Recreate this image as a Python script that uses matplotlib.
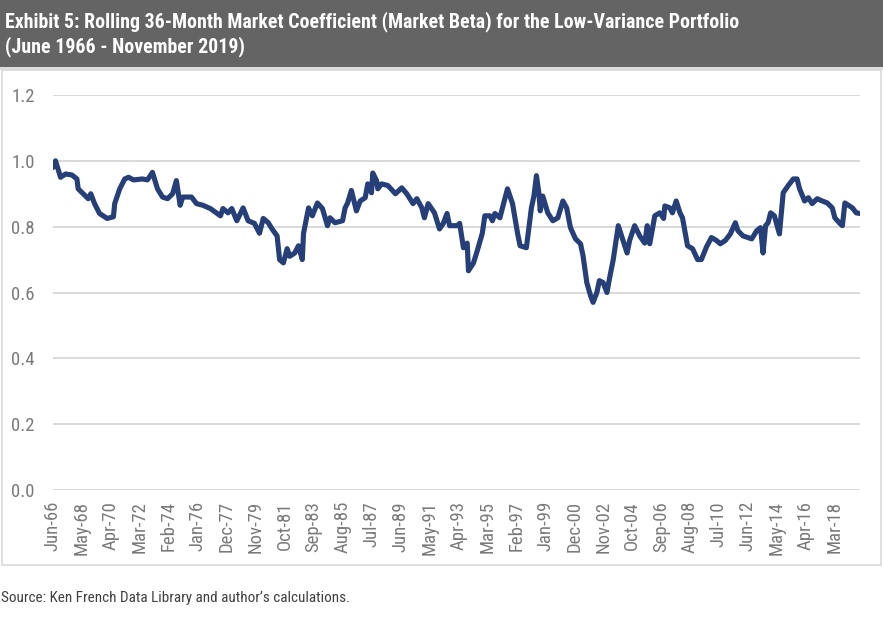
import os

import matplotlib

matplotlib.use("Agg")
import matplotlib.pyplot as plt
from matplotlib import font_manager
from matplotlib.font_manager import FontProperties
from matplotlib.patches import Rectangle

# keypoints (year-month, beta)
MONTHS = [
    "1966-06", "1966-08", "1966-12", "1967-04", "1967-09", "1968-01", "1968-02", "1968-06",
    "1968-10", "1968-12", "1969-03", "1969-07", "1970-01", "1970-06", "1970-07", "1970-11",
    "1971-03", "1971-06", "1971-10", "1972-05", "1972-09", "1973-01", "1973-05", "1973-09",
    "1974-01", "1974-05", "1974-08", "1974-11", "1975-01", "1975-08", "1975-12", "1976-05",
    "1976-11", "1977-07", "1977-09", "1978-01", "1978-04", "1978-08", "1979-01", "1979-05",
    "1979-10", "1980-02", "1980-05", "1980-09", "1980-12", "1981-04", "1981-06", "1981-09",
    "1981-12", "1982-02", "1982-06", "1982-09", "1982-12", "1983-01", "1983-05", "1983-08",
    "1983-12", "1984-04", "1984-08", "1984-10", "1985-02", "1985-08", "1985-10", "1985-12",
    "1986-03", "1986-07", "1986-10", "1987-02", "1987-04", "1987-07", "1987-08", "1987-11",
    "1987-12", "1988-03", "1988-08", "1989-02", "1989-07", "1989-11", "1990-04", "1990-07",
    "1990-11", "1991-01", "1991-04", "1991-09", "1992-01", "1992-04", "1992-07", "1992-09",
    "1993-03", "1993-05", "1993-08", "1993-11", "1993-12", "1994-04", "1994-07", "1994-11",
    "1995-01", "1995-05", "1995-07", "1995-09", "1996-01", "1996-03", "1996-07", "1996-11",
    "1997-03", "1997-05", "1997-10", "1998-02", "1998-04", "1998-06", "1998-08", "1998-09",
    "1998-11", "1999-03", "1999-07", "1999-11", "2000-03", "2000-06", "2000-09", "2001-01",
    "2001-05", "2001-07", "2001-10", "2002-01", "2002-03", "2002-06", "2002-08", "2002-11",
    "2003-02", "2003-04", "2003-07", "2003-11", "2004-02", "2004-06", "2004-08", "2004-12",
    "2005-04", "2005-08", "2005-10", "2005-12", "2006-04", "2006-08", "2006-11", "2006-12",
    "2007-04", "2007-06", "2007-09", "2007-12", "2008-02", "2008-06", "2008-10", "2009-02",
    "2009-05", "2009-09", "2010-01", "2010-05", "2010-08", "2010-12", "2011-04", "2011-08",
    "2011-10", "2012-02", "2012-06", "2012-09", "2013-01", "2013-04", "2013-06", "2013-08",
    "2013-10", "2013-12", "2014-03", "2014-07", "2014-10", "2015-02", "2015-06", "2015-09",
    "2015-11", "2016-03", "2016-06", "2016-09", "2017-01", "2017-05", "2017-09", "2018-01",
    "2018-03", "2018-07", "2018-09", "2018-11", "2019-05", "2019-08", "2019-11",
]
BETA = [
    0.98, 1.00, 0.95, 0.96, 0.957, 0.945, 0.915, 0.90,
    0.885, 0.90, 0.87, 0.84, 0.825, 0.83, 0.87, 0.915,
    0.945, 0.95, 0.942, 0.945, 0.942, 0.965, 0.915, 0.89,
    0.885, 0.90, 0.94, 0.865, 0.89, 0.89, 0.87, 0.865,
    0.855, 0.833, 0.855, 0.842, 0.855, 0.818, 0.857, 0.818,
    0.81, 0.78, 0.825, 0.812, 0.793, 0.772, 0.70, 0.69,
    0.733, 0.71, 0.72, 0.742, 0.70, 0.78, 0.857, 0.833,
    0.872, 0.855, 0.803, 0.827, 0.812, 0.818, 0.857, 0.872,
    0.91, 0.848, 0.878, 0.888, 0.93, 0.903, 0.963, 0.94,
    0.915, 0.93, 0.925, 0.90, 0.918, 0.90, 0.87, 0.885,
    0.857, 0.827, 0.87, 0.842, 0.793, 0.81, 0.84, 0.803,
    0.803, 0.81, 0.736, 0.75, 0.666, 0.69, 0.727, 0.78,
    0.833, 0.833, 0.818, 0.84, 0.827, 0.857, 0.915, 0.87,
    0.78, 0.742, 0.736, 0.857, 0.893, 0.955, 0.90, 0.848,
    0.893, 0.842, 0.818, 0.827, 0.878, 0.857, 0.797, 0.763,
    0.748, 0.712, 0.63, 0.59, 0.57, 0.60, 0.636, 0.63,
    0.60, 0.642, 0.70, 0.803, 0.767, 0.72, 0.758, 0.803,
    0.772, 0.75, 0.803, 0.748, 0.833, 0.842, 0.825, 0.863,
    0.857, 0.842, 0.878, 0.842, 0.827, 0.742, 0.733, 0.70,
    0.70, 0.738, 0.767, 0.758, 0.748, 0.758, 0.778, 0.812,
    0.788, 0.772, 0.767, 0.763, 0.788, 0.797, 0.72, 0.803,
    0.812, 0.842, 0.833, 0.778, 0.903, 0.925, 0.945, 0.945,
    0.915, 0.878, 0.888, 0.87, 0.885, 0.878, 0.872, 0.857,
    0.827, 0.81, 0.803, 0.872, 0.857, 0.842, 0.84,
]
TICK_LABELS = [
    "Jun-66", "May-68", "Apr-70", "Mar-72", "Feb-74", "Jan-76", "Dec-77", "Nov-79",
    "Oct-81", "Sep-83", "Aug-85", "Jul-87", "Jun-89", "May-91", "Apr-93", "Mar-95",
    "Feb-97", "Jan-99", "Dec-00", "Nov-02", "Oct-04", "Sep-06", "Aug-08", "Jul-10",
    "Jun-12", "May-14", "Apr-16", "Mar-18",
]
Y_TICKS = [0.0, 0.2, 0.4, 0.6, 0.8, 1.0, 1.2]

TITLE_1 = "Exhibit 5: Rolling 36-Month Market Coefficient (Market Beta) for the Low-Variance Portfolio"
TITLE_2 = "(June 1966 - November 2019)"
SOURCE = "Source: Ken French Data Library and author\u2019s calculations."

LINE_COLOR = "#263f78"
GRID_COLOR = "#d9d9d9"
TEXT_COLOR = "#7a7a7a"


def pick_font(weight):
    # prefer a narrow sans like the original; fall back to Liberation Sans
    for fam in ["Liberation Sans Narrow", "Roboto Condensed", "Open Sans Condensed", "Noto Sans", "Open Sans"]:
        try:
            path = font_manager.findfont(FontProperties(family=fam, weight=weight, stretch="condensed"),
                                         fallback_to_default=False)
        except ValueError:
            continue
        name = os.path.basename(path).lower()
        if "narrow" in name or "condensed" in name:
            return FontProperties(fname=path), True
    return FontProperties(family="Liberation Sans", weight=weight), False


def month_index(ym):
    year, month = (int(part) for part in ym.split("-"))
    return (year - 1966) * 12 + month - 6


def fit_width(fig, text, target_px):
    renderer = fig.canvas.get_renderer()
    width = text.get_window_extent(renderer).width
    text.set_fontsize(text.get_fontsize() * target_px / width)


def main():
    W, H = 883, 622
    fig = plt.figure(figsize=(W / 100, H / 100), dpi=100)
    bold, _ = pick_font("bold")
    regular, narrow = pick_font("normal")

    # title bar and chart frame
    fig.patches.append(Rectangle((0, 1 - 67 / H), 1, 67 / H, transform=fig.transFigure,
                                 facecolor="#646464", edgecolor="none", zorder=-5))
    fig.patches.append(Rectangle((0, 1 - 70 / H), 1, 3 / H, transform=fig.transFigure,
                                 facecolor="#dcdcdc", edgecolor="none", zorder=-5))
    fig.patches.append(Rectangle((2 / W, 1 - 565 / H), 879 / W, 495 / H, transform=fig.transFigure,
                                 facecolor="white", edgecolor=GRID_COLOR, linewidth=1.2, zorder=-5))

    t1 = fig.text(5 / W, 1 - 22 / H, TITLE_1, color="white", fontproperties=bold,
                  va="center", ha="left")
    fit_width(fig, t1, 730)
    t2 = fig.text(5 / W, 1 - 47 / H, TITLE_2, color="white", fontproperties=bold,
                  va="center", ha="left")
    t2.set_fontsize(t1.get_fontsize())
    src = fig.text(1 / W, 1 - 598 / H, SOURCE, color="#404040", fontproperties=regular,
                   va="center", ha="left")
    fit_width(fig, src, 346)

    ax = fig.add_axes([53 / W, 1 - 490 / H, 807 / W, 395 / H])
    xs = [month_index(m) for m in MONTHS]
    ax.plot(xs, BETA, color=LINE_COLOR, linewidth=3.7, solid_joinstyle="round",
            solid_capstyle="round", zorder=3)

    ax.set_ylim(0, 1.2)
    ax.set_xlim(0, 641)
    ax.set_yticks(Y_TICKS)
    ax.set_yticklabels([f"{v:.1f}" for v in Y_TICKS])
    ax.set_xticks([i * 23 for i in range(len(TICK_LABELS))])
    ax.set_xticklabels(TICK_LABELS, rotation=90)
    ax.yaxis.grid(True, color=GRID_COLOR, linewidth=1.4)
    ax.set_axisbelow(True)
    for spine in ax.spines.values():
        spine.set_visible(False)
    ax.tick_params(length=0, colors=TEXT_COLOR)
    ax.tick_params(axis="y", pad=13)
    ax.tick_params(axis="x", pad=8)
    tick_size = 13.5 if narrow else 11
    for label in ax.get_xticklabels() + ax.get_yticklabels():
        label.set_fontproperties(regular)
        label.set_fontsize(tick_size)
    ax.patch.set_alpha(0)

    fig.savefig("out.png", dpi=100)
    plt.close(fig)


if __name__ == "__main__":
    main()
